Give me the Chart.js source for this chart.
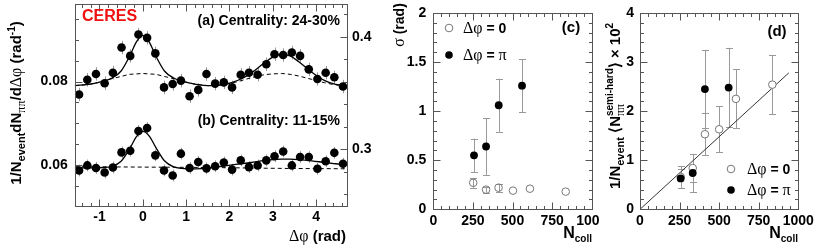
<!DOCTYPE html>
<html>
<head>
<meta charset="utf-8">
<script src="https://cdn.jsdelivr.net/npm/chart.js@4.4.1/dist/chart.umd.min.js"></script>
<style>
  html, body { margin: 0; padding: 0; background: #fff; }
  #wrap { position: relative; width: 831px; height: 249px; overflow: hidden; }
  canvas { position: absolute; top: 0; }
</style>
</head>
<body>
<div id="wrap">
  <canvas id="corr" width="380" height="249" style="left:0px"></canvas>
  <canvas id="width" width="220" height="249" style="left:380px"></canvas>
  <canvas id="yield" width="231" height="249" style="left:600px"></canvas>
</div>
<script>
// ---- panel (a)/(b): pair correlation vs delta phi
const dphi = [-1.47, -1.28, -1.08, -0.88, -0.69, -0.49, -0.29, -0.10, 0.10, 0.29, 0.49, 0.69, 0.88, 1.08, 1.28, 1.47,
              1.67, 1.87, 2.06, 2.26, 2.45, 2.65, 2.85, 3.04, 3.24, 3.44, 3.63, 3.83, 4.03, 4.22, 4.42, 4.62];
const corrA = [0.0769, 0.0804, 0.0818, 0.0796, 0.0821, 0.0881, 0.0861, 0.0912, 0.0904, 0.0867, 0.0786, 0.0794, 0.0802, 0.0765, 0.0780, 0.0818,
               0.0795, 0.0798, 0.0786, 0.0816, 0.0821, 0.0816, 0.0841, 0.0865, 0.0863, 0.0869, 0.0861, 0.0829, 0.0806, 0.0821, 0.0810, 0.0788];
const errA = [0.0016, 0.0016, 0.0016, 0.0016, 0.0016, 0.0016, 0.0016, 0.0016, 0.0016, 0.0016, 0.0016, 0.0016, 0.0016, 0.0016, 0.0016, 0.0016,
              0.0016, 0.0016, 0.0016, 0.0016, 0.0016, 0.0016, 0.0016, 0.0016, 0.0016, 0.0016, 0.0016, 0.0016, 0.0016, 0.0016, 0.0016, 0.0016];
const corrB = [0.0588, 0.0600, 0.0594, 0.0583, 0.0595, 0.0631, 0.0635, 0.0682, 0.0689, 0.0624, 0.0588, 0.0576, 0.0628, 0.0594, 0.0608, 0.0593,
               0.0598, 0.0607, 0.0590, 0.0612, 0.0596, 0.0600, 0.0612, 0.0622, 0.0633, 0.0600, 0.0620, 0.0620, 0.0592, 0.0610, 0.0630, 0.0604];
const errB = [0.0014, 0.0014, 0.0014, 0.0014, 0.0014, 0.0014, 0.0014, 0.0014, 0.0014, 0.0014, 0.0014, 0.0014, 0.0014, 0.0014, 0.0014, 0.0014,
              0.0014, 0.0014, 0.0014, 0.0014, 0.0014, 0.0014, 0.0014, 0.0014, 0.0014, 0.0014, 0.0014, 0.0014, 0.0014, 0.0014, 0.0014, 0.0014];

// fit curves
const fitX = [-1.57, -1.2, -0.9, -0.7, -0.5, -0.3, -0.15, 0, 0.15, 0.3, 0.5, 0.7, 0.9, 1.2, 1.57,
              1.9, 2.2, 2.5, 2.8, 3.0, 3.2, 3.4, 3.6, 3.9, 4.2, 4.45, 4.71];
const fitA = [0.0790, 0.0794, 0.0801, 0.0809, 0.0825, 0.0861, 0.0894, 0.0910, 0.0894, 0.0861, 0.0825, 0.0809, 0.0801, 0.0794, 0.0790,
              0.0794, 0.0803, 0.0820, 0.0844, 0.0858, 0.0865, 0.0861, 0.0847, 0.0822, 0.0802, 0.0793, 0.0790];
const flowA = [0.0790, 0.0794, 0.0801, 0.0807, 0.0812, 0.0817, 0.0818, 0.0819, 0.0818, 0.0817, 0.0812, 0.0807, 0.0801, 0.0794, 0.0790,
               0.0793, 0.0800, 0.0809, 0.0816, 0.0818, 0.0819, 0.0817, 0.0813, 0.0805, 0.0797, 0.0792, 0.0790];
const fitB = [0.0594, 0.0594, 0.0595, 0.0598, 0.0610, 0.0640, 0.0668, 0.0681, 0.0670, 0.0643, 0.0611, 0.0597, 0.0593, 0.0592, 0.0594,
              0.0599, 0.0603, 0.0607, 0.0612, 0.0614, 0.0615, 0.0615, 0.0614, 0.0611, 0.0607, 0.0604, 0.0601];
const flowBX = [-1.57, 0, 1.57, 3.14, 4.71];
const flowB = [0.0597, 0.0596, 0.0595, 0.0593, 0.0592];

const dphiTicks = [-1, 0, 1, 2, 3, 4];
const corrTicks = [0.06, 0.08];
const rightTicks = [0.3, 0.4];

// ---- panel (c): gaussian width vs Ncoll
const ncollNear = [252, 333, 412, 503, 610, 836];
const sigmaNear = [0.27, 0.20, 0.22, 0.19, 0.21, 0.18];
const sigmaNearErr = [0.05, 0.03, 0.04, 0, 0, 0];
const ncollAway = [257, 333, 413, 560];
const sigmaAway = [0.55, 0.64, 1.06, 1.26];
const sigmaAwayErr = [0.17, 0.29, 0.27, 0.27];
const ncollTicks = [0, 250, 500, 750, 1000];
const sigmaTicks = [0, 0.5, 1, 1.5, 2];

// ---- panel (d): semi-hard yield vs Ncoll
const ncollNearD = [257, 333, 410, 500, 606, 836];
const yieldNear = [0.66, 0.84, 1.53, 1.63, 2.25, 2.54];
const yieldNearErr = [0.22, 0.28, 0.43, 0.47, 0.60, 0.60];
const ncollAwayD = [257, 333, 410, 560];
const yieldAway = [0.63, 0.74, 2.45, 2.48];
const yieldAwayErr = [0.19, 0.39, 0.80, 0.81];
const lineN = [0, 940];
const lineY = [0, 2.78];
const yieldTicks = [0, 1, 2, 3, 4];

const SANS = '"Liberation Sans", Arial, sans-serif';
const SERIF = '"Liberation Serif", "DejaVu Serif", serif';
const B16 = 'bold 16px ' + SANS, B15 = 'bold 15px ' + SANS, B14 = 'bold 14px ' + SANS;
const B11 = 'bold 11px ' + SANS, B10 = 'bold 10px ' + SANS;
const G15 = '16px ' + SERIF, G11 = '12px ' + SERIF;

function xy(xs, ys) {
    return xs.map((x, i) => ({ x: x, y: ys[i] }));
}

// fixed axis sizes so the plot frames land where the picture has them
function fixSize(w, h) {
    return function (s) {
        if (w != null) s.width = w;
        if (h != null) s.height = h;
        s.paddingLeft = s.paddingRight = s.paddingTop = s.paddingBottom = 0;
    };
}

function axis(pos, min, max, ticks, size, pad) {
    let horiz = pos === 'bottom';
    return {
        type: 'linear', position: pos, min: min, max: max,
        afterBuildTicks: s => { s.ticks = ticks.map(v => ({ value: v })); },
        afterFit: horiz ? fixSize(null, size) : fixSize(size, null),
        grid: { display: false, drawTicks: false },
        border: { display: false },
        ticks: {
            autoSkip: false, maxRotation: 0, padding: pad, color: '#000',
            font: { family: SANS, size: 14, weight: 'bold' },
            callback: v => String(v),
        },
    };
}

const errorBars = {
    id: 'errorBars',
    beforeDatasetsDraw(chart) {
        const ctx = chart.ctx;
        chart.data.datasets.forEach((ds, i) => {
            if (!ds.err) return;
            const meta = chart.getDatasetMeta(i);
            const ys = chart.scales[meta.yAxisID];
            ctx.save();
            ctx.strokeStyle = ds.errColor || '#999';
            ctx.lineWidth = 1;
            meta.data.forEach((pt, j) => {
                const e = ds.err[j];
                if (!e) return;
                const v = ds.data[j].y;
                const y1 = ys.getPixelForValue(v - e), y2 = ys.getPixelForValue(v + e);
                const x = Math.round(pt.x) + 0.5;
                ctx.beginPath();
                ctx.moveTo(x, y1);
                ctx.lineTo(x, y2);
                if (ds.cap) {
                    ctx.moveTo(x - ds.cap, Math.round(y1) + 0.5);
                    ctx.lineTo(x + ds.cap, Math.round(y1) + 0.5);
                    ctx.moveTo(x - ds.cap, Math.round(y2) + 0.5);
                    ctx.lineTo(x + ds.cap, Math.round(y2) + 0.5);
                }
                ctx.stroke();
            });
            ctx.restore();
        });
    }
};

// inward ticks on the frame
function inTicks(ctx, a, scale, t) {
    const i0 = Math.ceil(scale.min / t.step - 1e-6), i1 = Math.floor(scale.max / t.step + 1e-6);
    ctx.beginPath();
    for (let i = i0; i <= i1; i++) {
        const len = (i % t.every === 0) ? 7 : 3.5;
        const p = Math.round(scale.getPixelForValue(i * t.step)) + 0.5;
        t.sides.forEach(side => {
            if (side === 'bottom') { ctx.moveTo(p, a.bottom); ctx.lineTo(p, a.bottom - len); }
            if (side === 'top') { ctx.moveTo(p, a.top); ctx.lineTo(p, a.top + len); }
            if (side === 'left') { ctx.moveTo(a.left, p); ctx.lineTo(a.left + len, p); }
            if (side === 'right') { ctx.moveTo(a.right, p); ctx.lineTo(a.right - len, p); }
        });
    }
    ctx.stroke();
}

function frame(tickSpecs, extra) {
    return {
        id: 'frame',
        afterDraw(chart) {
            const ctx = chart.ctx, c = chart.chartArea;
            const a = { left: Math.round(c.left) + 0.5, right: Math.round(c.right) + 0.5, top: Math.round(c.top) + 0.5, bottom: Math.round(c.bottom) + 0.5 };
            ctx.save();
            ctx.strokeStyle = '#555';
            ctx.lineWidth = 1;
            ctx.strokeRect(a.left, a.top, a.right - a.left, a.bottom - a.top);
            tickSpecs.forEach(t => inTicks(ctx, a, chart.scales[t.id], t));
            ctx.restore();
            if (extra) extra(ctx, chart);
        }
    };
}

// text with sub/superscripts: parts = [text, font, dy, color, hold]
function rich(ctx, parts, x, y, align, rot) {
    ctx.save();
    ctx.translate(x, y);
    if (rot) ctx.rotate(rot);
    let w = 0;
    parts.forEach(p => { ctx.font = p[1]; if (!p[4]) w += ctx.measureText(p[0]).width; });
    let cx = align === 'right' ? -w : align === 'center' ? -w / 2 : 0;
    ctx.textBaseline = 'alphabetic';
    ctx.textAlign = 'left';
    parts.forEach(p => {
        ctx.font = p[1];
        ctx.fillStyle = p[3] || '#000';
        ctx.fillText(p[0], cx, p[2] || 0);
        if (!p[4]) cx += ctx.measureText(p[0]).width;
    });
    ctx.restore();
}

function marker(ctx, x, y, filled) {
    ctx.save();
    ctx.beginPath();
    ctx.arc(x, y, 3.8, 0, Math.PI * 2);
    if (filled) { ctx.fillStyle = '#000'; ctx.fill(); }
    else { ctx.strokeStyle = '#777'; ctx.lineWidth = 1; ctx.stroke(); }
    ctx.restore();
}

const base = {
    responsive: false, animation: false, events: [],
    plugins: { legend: { display: false }, tooltip: { enabled: false } },
};

// ---------- chart 1
new Chart(document.getElementById('corr'), {
    type: 'scatter',
    data: {
        datasets: [
            { data: xy(dphi, corrA), err: errA, pointRadius: 4.3, backgroundColor: '#000', borderWidth: 0, yAxisID: 'y' },
            { data: xy(dphi, corrB), err: errB, pointRadius: 4.3, backgroundColor: '#000', borderWidth: 0, yAxisID: 'y' },
            { data: xy(fitX, fitA), showLine: true, borderColor: '#000', borderWidth: 1.3, pointRadius: 0, cubicInterpolationMode: 'monotone', yAxisID: 'y' },
            { data: xy(fitX, flowA), showLine: true, borderColor: '#000', borderWidth: 1, borderDash: [4, 3], pointRadius: 0, cubicInterpolationMode: 'monotone', yAxisID: 'y' },
            { data: xy(fitX, fitB), showLine: true, borderColor: '#000', borderWidth: 1.3, pointRadius: 0, cubicInterpolationMode: 'monotone', yAxisID: 'y' },
            { data: xy(flowBX, flowB), showLine: true, borderColor: '#000', borderWidth: 1, borderDash: [4, 3], pointRadius: 0, cubicInterpolationMode: 'monotone', yAxisID: 'y' },
        ],
    },
    options: Object.assign({}, base, {
        layout: { padding: { top: 2, left: 0, right: 0, bottom: 0 } },
        scales: {
            x: axis('bottom', -1.5708, 4.7124, dphiTicks, 43.3, 3),
            y: axis('left', 0.0504, 0.0984, corrTicks, 74.7, 7),
            y2: axis('right', 0.250, 0.429, rightTicks, 33, 5),
        },
    }),
    plugins: [errorBars, frame([
        { id: 'x', step: 0.2, every: 5, sides: ['bottom', 'top'] },
        { id: 'y', step: 0.005, every: 4, sides: ['left'] },
        { id: 'y2', step: 0.02, every: 5, sides: ['right'] },
    ], function (ctx) {
        rich(ctx, [['CERES', B16, 0, '#f01010']], 82, 21, 'left');
        rich(ctx, [['(a) Centrality: 24-30%', B14]], 340, 25, 'right');
        rich(ctx, [['(b) Centrality: 11-15%', B14]], 340, 125, 'right');
        rich(ctx, [['Δφ', G15], [' (rad)', B15]], 346, 241, 'right');
        rich(ctx, [['1/N', B15], ['event', B11, 4], ['dN', B15], ['ππ', G11, 4], ['/d', B15], ['Δφ', G15],
                   [' (rad', B15], ['-1', B10, -6], [')', B15]], 21, 103, 'center', -Math.PI / 2);
    })],
});

// ---------- chart 2 (c)
new Chart(document.getElementById('width'), {
    type: 'scatter',
    data: {
        datasets: [
            { data: xy(ncollAway, sigmaAway), err: sigmaAwayErr, cap: 3.5, pointRadius: 3.9, backgroundColor: '#000', borderWidth: 0 },
            { data: xy(ncollNear, sigmaNear), err: sigmaNearErr, cap: 3.5, pointRadius: 3.8, backgroundColor: 'rgba(255,255,255,0)', borderColor: '#777', borderWidth: 1 },
        ],
    },
    options: Object.assign({}, base, {
        layout: { padding: { top: 13, left: 0, right: 8.3, bottom: 0 } },
        scales: {
            x: axis('bottom', 0, 1000, ncollTicks, 39.7, 3),
            y: axis('left', 0, 2, sigmaTicks, 53.3, 7),
        },
    }),
    plugins: [errorBars, frame([
        { id: 'x', step: 50, every: 5, sides: ['bottom', 'top'] },
        { id: 'y', step: 0.1, every: 5, sides: ['left', 'right'] },
    ], function (ctx) {
        rich(ctx, [['σ', G15], [' (rad)', B14]], 24, 25, 'center', -Math.PI / 2);
        rich(ctx, [['(c)', B15]], 191, 32, 'center');
        marker(ctx, 69, 28, false);
        rich(ctx, [['Δφ', G15], [' = 0', B14]], 83, 33, 'left');
        marker(ctx, 69, 55, true);
        rich(ctx, [['Δφ', G15], [' = ', B14], ['π', G15]], 83, 60, 'left');
        rich(ctx, [['N', B16], ['coll', B10, 4]], 212, 238, 'right');
    })],
});

// ---------- chart 3 (d)
new Chart(document.getElementById('yield'), {
    type: 'scatter',
    data: {
        datasets: [
            { data: xy(ncollAwayD, yieldAway), err: yieldAwayErr, cap: 3.5, pointRadius: 3.9, backgroundColor: '#000', borderWidth: 0 },
            { data: xy(ncollNearD, yieldNear), err: yieldNearErr, cap: 3.5, pointRadius: 3.8, backgroundColor: '#fff', borderColor: '#777', borderWidth: 1 },
            { data: xy(lineN, lineY), showLine: true, borderColor: '#333', borderWidth: 1, pointRadius: 0 },
        ],
    },
    options: Object.assign({}, base, {
        layout: { padding: { top: 13, left: 0, right: 32.7, bottom: 0 } },
        scales: {
            x: axis('bottom', 0, 1000, ncollTicks, 39.7, 3),
            y: axis('left', 0, 4, yieldTicks, 40, 6),
        },
    }),
    plugins: [errorBars, frame([
        { id: 'x', step: 50, every: 5, sides: ['bottom', 'top'] },
        { id: 'y', step: 0.2, every: 5, sides: ['left', 'right'] },
    ], function (ctx) {
        rich(ctx, [['1/N', B15], ['event', B11, 4], [' \u27E8N', B15], ['ππ', G11, 4, null, true], ['semi-hard', B10, -7],
                   ['\u27E9 × 10', B15], ['2', B10, -7]], 20, 106, 'center', -Math.PI / 2);
        rich(ctx, [['(d)', B15]], 177, 36, 'center');
        marker(ctx, 131, 169, false);
        rich(ctx, [['Δφ', G15], [' = 0', B14]], 147, 174, 'left');
        marker(ctx, 131, 190, true);
        rich(ctx, [['Δφ', G15], [' = ', B14], ['π', G15]], 147, 195, 'left');
        rich(ctx, [['N', B16], ['coll', B10, 4]], 198, 238, 'right');
    })],
});
</script>
</body>
</html>
